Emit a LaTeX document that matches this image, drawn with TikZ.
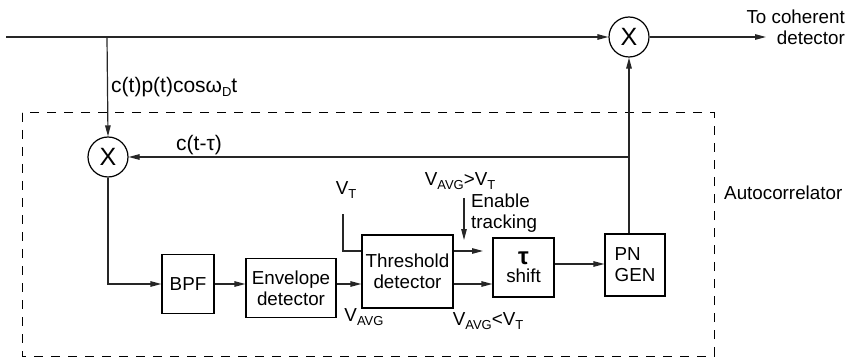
\documentclass[tikz,border=0pt]{standalone}
\usepackage{fontspec}
\setmainfont{Liberation Sans}
\usetikzlibrary{arrows.meta,calc}
\newcommand{\sbs}[1]{\raisebox{-4.5pt}{\fontsize{13}{13}\selectfont #1}}
\begin{document}
\begin{tikzpicture}[x=1pt,y=-1pt,
  every node/.style={font=\fontsize{18.8}{21}\selectfont, inner sep=0pt},
  big/.style={font=\fontsize{21}{23}\selectfont},
  ln/.style={line width=1.2pt, draw=black!85},
  arr/.style={ln, -{Triangle[length=11pt,width=5.5pt]}},
  blk/.style={draw, line width=1.2pt, align=center},
  mix/.style={draw, circle, line width=1.2pt, minimum size=40pt, font=\fontsize{25}{25}\selectfont},
  lbl/.style={align=left}]
\useasboundingbox (0,0) rectangle (848,358);
% dashed autocorrelator frame
\draw[line width=1pt, dash pattern=on 9pt off 8pt] (22,113) rectangle (714,356);
\node[lbl, anchor=west] (auto) at (724,193) {Autocorrelator};
% mixers
\node[mix] (mR) at (629,37) {X};
\node[mix] (mL) at (108,157) {X};
% blocks
\node[blk, minimum width=52pt, minimum height=59pt] (bpf) at (188,284) {BPF};
\node[blk, minimum width=90pt, minimum height=59pt] (env) at (291,288) {Envelope\\detector};
\node[blk, minimum width=91pt, minimum height=73pt] (thr) at (407.5,271.5) {Threshold\\detector};
\node[blk, minimum width=61pt, minimum height=59pt] (tau) at (523.5,267.5) {{\fontsize{24}{24}\selectfont\bfseries τ}\\[-3pt]shift};
\node[blk, minimum width=60pt, minimum height=62pt, align=left] (pn) at (635,265) {PN\\GEN};
% coordinates
\coordinate (in) at (6,37);
\coordinate (tap) at (107,37);
\coordinate (out) at (766,37);
\coordinate (j) at (629,157);
\coordinate (vtl) at (343,214);
\coordinate (up) at (483,251);
\coordinate (en) at (464,198);
\coordinate (ent) at (464,240);
% main path
\draw[arr] (in) -- (mR.west);
\draw[arr] (mR.east) -- (out);
\node[align=right, anchor=east] (toc) at (845,27) {To coherent\\detector};
\draw[arr] (tap) -- (mL.north);
\node[big, anchor=west] (sig) at (111,87) {c(t)p(t)cosω\sbs{D}t};
% feedback
\draw[arr] (pn.north -| mR.south) -- (mR.south);
\draw[arr] (j) -- (mL.east);
\node[big] (ctau) at (199,145) {c(t-τ)};
% chain
\draw[arr] (mL.south) |- (bpf.west);
\draw[arr] (bpf.east) -- (bpf.east -| env.west);
\draw[arr] (bpf.east -| env.east) -- (bpf.east -| thr.west);
\node (vavg) at (364,317) {V\sbs{AVG}};
\node (vt) at (346,190) {V\sbs{T}};
\draw[ln] (vtl) |- (up -| thr.west);
\draw[arr] (up -| thr.east) -- (up);
\draw[arr] (bpf.east -| thr.east) -- (bpf.east -| tau.west);
\draw[arr] (en) -- (ent);
\node (gt) at (460,181) {V\sbs{AVG}>V\sbs{T}};
\node[lbl, anchor=west] (ena) at (471,213) {Enable\\tracking};
\node (lt) at (488,321) {V\sbs{AVG}<V\sbs{T}};
\draw[arr] (tau.east |- 0,264) -- (pn.west |- 0,264);
\end{tikzpicture}
\end{document}
